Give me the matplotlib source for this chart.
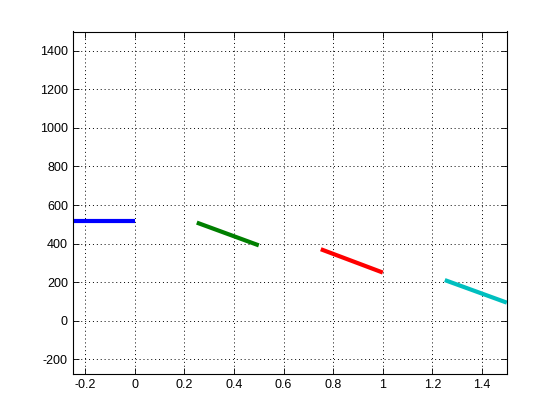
import matplotlib
matplotlib.use("Agg")
import matplotlib.pyplot as plt

plt.rcParams['font.family'] = ['Liberation Sans', 'DejaVu Sans']
plt.rcParams['axes.unicode_minus'] = False

# segments: (x start, x end, y start, y end, colour)
seg_x0 = [-0.25, 0.25, 0.75, 1.25]
seg_x1 = [0.0, 0.5, 1.0, 1.5]
seg_y0 = [518, 509, 371, 211]
seg_y1 = [518, 391, 250, 94]
seg_colors = ['#0000ff', '#007f00', '#ff0000', '#00bfbf']

xticks = [-0.2, 0, 0.2, 0.4, 0.6, 0.8, 1, 1.2, 1.4]
xlabels = ['-0.2', '0', '0.2', '0.4', '0.6', '0.8', '1', '1.2', '1.4']
yticks = [-200, 0, 200, 400, 600, 800, 1000, 1200, 1400]

fig = plt.figure(figsize=(5.6, 4.2), dpi=100)
ax = fig.add_axes([0.13, 0.11, 0.775, 0.815])

for x0, x1, y0, y1, c in zip(seg_x0, seg_x1, seg_y0, seg_y1, seg_colors):
    ax.plot([x0, x1], [y0, y1], color=c, linewidth=3, solid_capstyle='butt')

ax.set_xlim(-0.25, 1.5)
ax.set_ylim(-275, 1500)
ax.set_xticks(xticks)
ax.set_xticklabels(xlabels)
ax.set_yticks(yticks)
ax.set_yticklabels([str(v) for v in yticks])
ax.grid(True, linestyle=(0, (1, 3)), color='black', linewidth=0.7)
ax.tick_params(direction='in', top=True, right=True, labelsize=9, length=4, width=0.6)
for s in ax.spines.values():
    s.set_linewidth(0.8)

fig.savefig('out.png', dpi=100)
